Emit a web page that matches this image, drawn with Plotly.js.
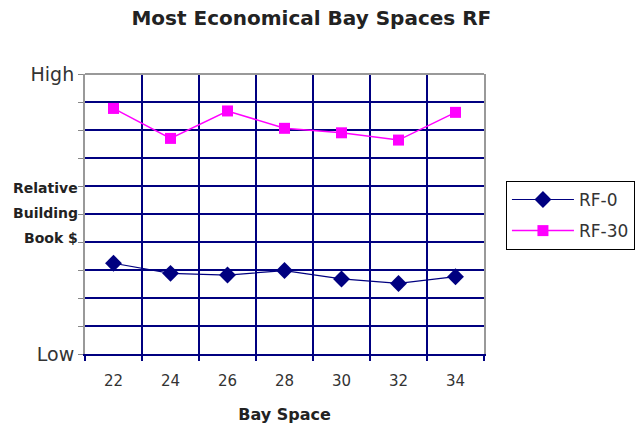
<!DOCTYPE html>
<html>
<head>
<meta charset="utf-8">
<script src="https://cdn.plot.ly/plotly-3.0.1.min.js"></script>
<style>
  html, body { margin: 0; padding: 0; background: #fff; }
  #chart { width: 638px; height: 428px; }
</style>
</head>
<body>
<div id="chart"></div>
<script>
// Bay spacing options (ft) and relative building cost on a 0 (Low) – 10 (High) scale
const baySpace = [22, 24, 26, 28, 30, 32, 34];
const rf0  = [3.24, 2.88, 2.82, 2.98, 2.68, 2.52, 2.76];
const rf30 = [8.77, 7.70, 8.68, 8.06, 7.90, 7.64, 8.63];
const yTickVals = [0, 1, 2, 3, 4, 5, 6, 7, 8, 9, 10];
const yTickText = ['Low', '', '', '', '', '', '', '', '', '', 'High'];
const yLabelLines = ['Relative', 'Building', 'Book $'];

const navy = '#000080';
const magenta = '#ff00ff';
const fam = 'DejaVu Sans, Arial, sans-serif';

const traces = [
  {
    x: baySpace, y: rf0, name: 'RF-0', type: 'scatter', mode: 'lines+markers',
    legendgroup: 'rf0',
    line: { color: navy, width: 1.2 },
    marker: { symbol: 'diamond', size: 13, color: navy }
  },
  {
    x: baySpace, y: rf30, name: 'RF-30', type: 'scatter', mode: 'lines+markers',
    legendgroup: 'rf30',
    line: { color: magenta, width: 1.5 },
    marker: { symbol: 'square', size: 11, color: magenta }
  }
];

// category boundaries get the vertical grid and the tick marks
const bounds = [];
for (let i = 0; i <= baySpace.length; i++) bounds.push(baySpace[0] - 1 + 2 * i);

const annotations = yLabelLines.map((t, i) => ({
  text: '<b>' + t + '</b>', xref: 'paper', yref: 'paper',
  x: -0.012, y: (354 - (188 + 25 * i)) / 280, xanchor: 'right', yanchor: 'middle',
  showarrow: false, font: { family: fam, size: 14, color: '#222' }
}));

const layout = {
  width: 638, height: 428,
  margin: { l: 85, r: 154, t: 74, b: 74, autoexpand: false },
  paper_bgcolor: '#fff', plot_bgcolor: '#fff',
  font: { family: fam, color: '#333' },
  title: {
    text: '<b>Most Economical Bay Spaces RF</b>',
    x: 0.488, xanchor: 'center', y: 0.958, yanchor: 'middle',
    font: { size: 20, color: '#222' }
  },
  xaxis: {
    range: [bounds[0], bounds[bounds.length - 1]],
    tickvals: baySpace, ticktext: baySpace.map(String),
    ticks: '', showgrid: false, zeroline: false,
    tickfont: { size: 15, color: '#333' },
    ticklabelstandoff: 12,
    showline: true, linecolor: navy, linewidth: 2,
    minor: { tickvals: bounds, showgrid: true, gridcolor: navy, gridwidth: 2,
             ticks: 'outside', ticklen: 5, tickcolor: navy, tickwidth: 2 },
    title: { text: '<b>Bay Space</b>', font: { size: 16, color: '#222' }, standoff: 20 },
    fixedrange: true
  },
  yaxis: {
    range: [0, 10], tickvals: yTickVals, ticktext: yTickText,
    ticks: 'outside', ticklen: 5, tickcolor: '#888', tickwidth: 1,
    showgrid: true, gridcolor: navy, gridwidth: 2, zeroline: false,
    tickfont: { size: 19, color: '#333' },
    showline: true, linecolor: '#999', linewidth: 2, mirror: true,
    fixedrange: true
  },
  shapes: [
    { type: 'line', xref: 'paper', yref: 'paper', x0: 0, x1: 1, y0: 1, y1: 1,
      line: { color: '#999', width: 2 } }
  ],
  annotations: annotations,
  showlegend: true,
  legend: {
    x: 1.055, y: 0.618, xanchor: 'left', yanchor: 'top',
    bgcolor: '#fff', bordercolor: '#000', borderwidth: 1,
    font: { size: 17, color: '#333' }, itemwidth: 62, tracegroupgap: 6
  }
};

Plotly.newPlot('chart', traces, layout, { displayModeBar: false, staticPlot: true });
</script>
</body>
</html>
